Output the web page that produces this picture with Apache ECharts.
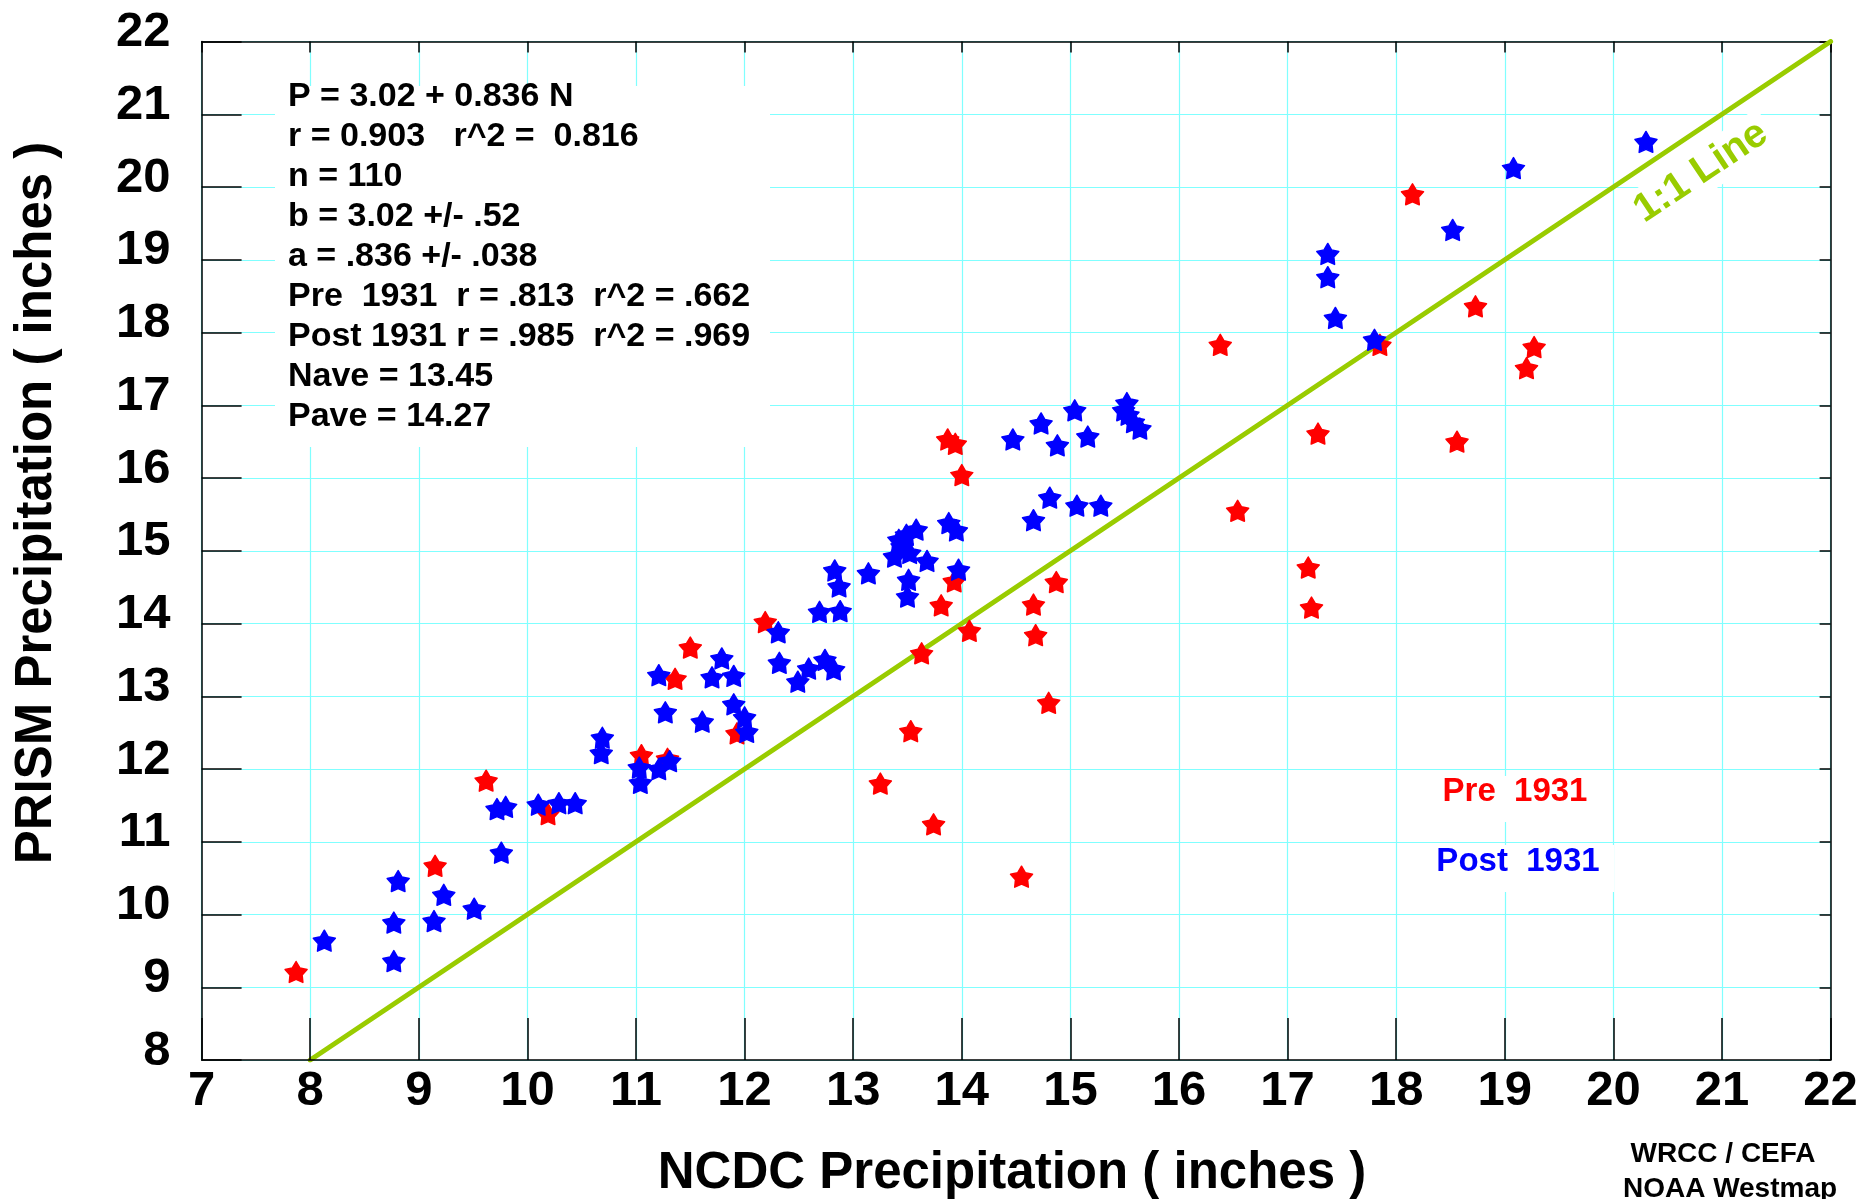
<!DOCTYPE html>
<html>
<head>
<meta charset="utf-8">
<style>
  html, body { margin: 0; padding: 0; background: #ffffff; }
  #chart { width: 1875px; height: 1199px; }
</style>
<script src="https://cdn.jsdelivr.net/npm/echarts@6/dist/echarts.min.js"></script>
</head>
<body>
<div id="chart"></div>
<script>
// ---------------- data ----------------
const xTicks = [7, 8, 9, 10, 11, 12, 13, 14, 15, 16, 17, 18, 19, 20, 21, 22];
const yTicks = [8, 9, 10, 11, 12, 13, 14, 15, 16, 17, 18, 19, 20, 21, 22];

// Pre 1931 (red)
const preX = [7.87, 9.15, 9.62, 10.19, 11.05, 11.29, 11.36, 11.50, 11.93, 12.19,
              13.25, 13.53, 13.63, 13.74, 13.81, 13.87, 13.94, 13.93, 14.00, 14.07,
              14.55, 14.66, 14.68, 14.80, 14.87, 16.38, 16.54, 17.19, 17.22, 17.28,
              17.85, 18.15, 18.56, 18.73, 19.20, 19.27];
const preY = [9.21, 10.67, 11.84, 11.38, 12.19, 12.14, 13.24, 13.67, 12.49, 14.02,
              11.80, 12.52, 13.59, 11.24, 14.25, 16.53, 16.47, 14.58, 16.04, 13.90,
              10.52, 14.26, 13.84, 12.91, 14.57, 17.83, 15.55, 14.77, 14.22, 16.61,
              17.83, 19.90, 16.50, 18.36, 17.51, 17.80];

// Post 1931 (blue)
const postX = [8.13, 8.77, 8.77, 8.81, 9.14, 9.23, 9.51, 9.76, 9.72, 9.80,
               10.10, 10.29, 10.44, 10.69, 10.68, 11.03, 11.04, 11.21, 11.31, 11.21,
               11.27, 11.61, 11.79, 11.70, 11.90, 11.90, 12.00, 12.02, 12.31, 12.32,
               12.49, 12.59, 12.74, 12.82, 12.69, 12.88, 12.83, 12.87, 13.14, 13.58,
               13.49, 13.42, 13.45, 13.38, 13.52, 13.68, 13.51, 13.50, 13.88, 13.95,
               13.97, 14.47, 14.73, 14.88, 15.04, 15.16, 15.52, 15.49, 15.53, 15.58,
               15.64, 14.81, 14.66, 15.06, 15.28, 17.37, 17.37, 17.44, 17.80, 18.52,
               19.08, 20.30];
const postY = [9.64, 9.36, 9.89, 10.46, 9.91, 10.27, 10.08, 10.85, 11.45, 11.48,
               11.51, 11.53, 11.53, 12.43, 12.22, 12.02, 11.81, 12.00, 12.11, 13.29,
               12.78, 12.65, 13.52, 13.26, 13.28, 12.89, 12.71, 12.51, 13.88, 13.46,
               13.20, 13.38, 13.50, 13.37, 14.16, 14.17, 14.73, 14.51, 14.69, 15.29,
               15.22, 15.15, 15.06, 14.92, 14.97, 14.86, 14.60, 14.37, 15.38, 15.28,
               14.74, 16.53, 16.75, 16.45, 16.93, 16.57, 17.03, 16.93, 16.87, 16.77,
               16.68, 15.73, 15.42, 15.62, 15.62, 19.08, 18.76, 18.20, 17.90, 19.41,
               20.26, 20.62];

// 1:1 line end points
const oneToOneX = [8, 22];

const statsLines = [
  'P = 3.02 + 0.836 N',
  'r = 0.903   r^2 =  0.816',
  'n = 110',
  'b = 3.02 +/- .52',
  'a = .836 +/- .038',
  'Pre  1931  r = .813  r^2 = .662',
  'Post 1931 r = .985  r^2 = .969',
  'Nave = 13.45',
  'Pave = 14.27'
];

// ---------------- styles ----------------
const FONT = 'Liberation Sans, Arial, Helvetica, sans-serif';
const GRIDC = '#80ffff';
const GREEN = '#99cc00';

function starPath(R, r) {
  let d = '';
  for (let i = 0; i < 10; i++) {
    const a = (-90 + i * 36) * Math.PI / 180;
    const rad = (i % 2) ? r : R;
    const x = R + rad * Math.cos(a);
    const y = R + rad * Math.sin(a);
    d += (i ? 'L' : 'M') + x.toFixed(3) + ' ' + y.toFixed(3);
  }
  return 'path://' + d + 'Z';
}
const STAR = starPath(10, 5.5);

const zip = (a, b) => a.map((v, i) => [v, b[i]]);

const chart = echarts.init(document.getElementById('chart'), null, { renderer: 'canvas' });

const labelStyle = { fontSize: 49, fontWeight: 'bold', fontFamily: FONT, color: '#000' };

const graphics = [];
// white box behind statistics
graphics.push({ type: 'rect', z: 1, shape: { x: 275, y: 86, width: 495, height: 361 }, style: { fill: '#fff' } });
statsLines.forEach((t, i) => {
  graphics.push({
    type: 'text', z: 10, x: 288, y: 96.7 + 40 * i,
    style: { text: t, font: 'bold 34px ' + FONT, fill: '#000', textAlign: 'left', textVerticalAlign: 'middle' }
  });
});
// legend texts with white backgrounds
graphics.push({ type: 'rect', z: 1, shape: { x: 1438, y: 776, width: 154, height: 46 }, style: { fill: '#fff' } });
graphics.push({ type: 'rect', z: 1, shape: { x: 1432, y: 845, width: 182, height: 47 }, style: { fill: '#fff' } });
graphics.push({ type: 'text', z: 10, x: 1515, y: 791.5, style: { text: 'Pre  1931', font: 'bold 33px ' + FONT, fill: '#ff0000', textAlign: 'center', textVerticalAlign: 'middle' } });
graphics.push({ type: 'text', z: 10, x: 1518, y: 861.5, style: { text: 'Post  1931', font: 'bold 33px ' + FONT, fill: '#0000ff', textAlign: 'center', textVerticalAlign: 'middle' } });
// 1:1 label
graphics.push({
  type: 'text', z: 1, x: 1701, y: 172, rotation: Math.atan(72.75 / 108.6),
  style: { text: '1:1 Line', font: 'bold 40px ' + FONT, fill: GREEN, textAlign: 'center', textVerticalAlign: 'middle',
           backgroundColor: '#fff', padding: [2, 6, 2, 6] }
});
// axis titles
graphics.push({ type: 'text', z: 10, x: 1012, y: 1174, style: { text: 'NCDC Precipitation ( inches )', font: 'bold 51px ' + FONT, fill: '#000', textAlign: 'center', textVerticalAlign: 'middle' } });
graphics.push({ type: 'text', z: 10, x: 37, y: 503, rotation: Math.PI / 2, style: { text: 'PRISM Precipitation ( inches )', font: 'bold 51px ' + FONT, fill: '#000', textAlign: 'center', textVerticalAlign: 'middle' } });
// credits
graphics.push({ type: 'text', z: 10, x: 1723, y: 1154, style: { text: 'WRCC / CEFA', font: 'bold 28px ' + FONT, fill: '#000', textAlign: 'center', textVerticalAlign: 'middle' } });
graphics.push({ type: 'text', z: 10, x: 1730, y: 1189, style: { text: 'NOAA Westmap', font: 'bold 28px ' + FONT, fill: '#000', textAlign: 'center', textVerticalAlign: 'middle' } });

const option = {
  backgroundColor: '#ffffff',
  animation: false,
  grid: { left: 201.6, right: 44.4, top: 41.5, bottom: 139, containLabel: false },
  xAxis: [
    {
      type: 'value', position: 'bottom', min: xTicks[0], max: xTicks[xTicks.length - 1], interval: 1, z: 5,
      axisLine: { show: true, onZero: false, lineStyle: { color: '#000', width: 1.5 } },
      axisTick: { show: true, inside: true, length: 42, lineStyle: { color: '#000', width: 1.5 } },
      axisLabel: Object.assign({ show: true, margin: 31, verticalAlign: 'middle', showMinLabel: true, showMaxLabel: true }, labelStyle),
      splitLine: { show: false }
    },
    {
      type: 'value', position: 'top', min: xTicks[0], max: xTicks[xTicks.length - 1], interval: 1, z: 0,
      axisLine: { show: true, onZero: false, lineStyle: { color: '#000', width: 1.5 } },
      axisTick: { show: true, inside: true, length: 11, lineStyle: { color: '#000', width: 1.5 } },
      axisLabel: { show: false },
      splitLine: { show: true, lineStyle: { color: GRIDC, width: 1.2 } }
    }
  ],
  yAxis: [
    {
      type: 'value', position: 'left', min: yTicks[0], max: yTicks[yTicks.length - 1], interval: 1, z: 5,
      axisLine: { show: true, onZero: false, lineStyle: { color: '#000', width: 1.5 } },
      axisTick: { show: true, inside: true, length: 40, lineStyle: { color: '#000', width: 1.5 } },
      axisLabel: Object.assign({ show: true, margin: 31, align: 'right', verticalAlign: 'bottom', lineHeight: 18, showMinLabel: true, showMaxLabel: true }, labelStyle),
      splitLine: { show: false }
    },
    {
      type: 'value', position: 'right', min: yTicks[0], max: yTicks[yTicks.length - 1], interval: 1, z: 0,
      axisLine: { show: true, onZero: false, lineStyle: { color: '#000', width: 1.5 } },
      axisTick: { show: true, inside: true, length: 11, lineStyle: { color: '#000', width: 1.5 } },
      axisLabel: { show: false },
      splitLine: { show: true, lineStyle: { color: GRIDC, width: 1.2 } }
    }
  ],
  series: [
    {
      name: '1:1 Line', type: 'line', z: 2, xAxisIndex: 0, yAxisIndex: 0,
      data: zip(oneToOneX, oneToOneX), symbol: 'none',
      lineStyle: { color: GREEN, width: 5, cap: 'round' }
    },
    {
      name: 'Pre 1931', type: 'scatter', z: 3, xAxisIndex: 0, yAxisIndex: 0,
      data: zip(preX, preY), symbol: STAR, symbolSize: 22, symbolKeepAspect: true,
      itemStyle: { color: '#ff0000', borderColor: '#ff0000', borderWidth: 1.5, borderJoin: 'round', opacity: 1 }
    },
    {
      name: 'Post 1931', type: 'scatter', z: 4, xAxisIndex: 0, yAxisIndex: 0,
      data: zip(postX, postY), symbol: STAR, symbolSize: 22, symbolKeepAspect: true,
      itemStyle: { color: '#0000ff', borderColor: '#0000ff', borderWidth: 1.5, borderJoin: 'round', opacity: 1 }
    }
  ],
  graphic: { elements: graphics }
};

chart.setOption(option);
</script>
</body>
</html>
